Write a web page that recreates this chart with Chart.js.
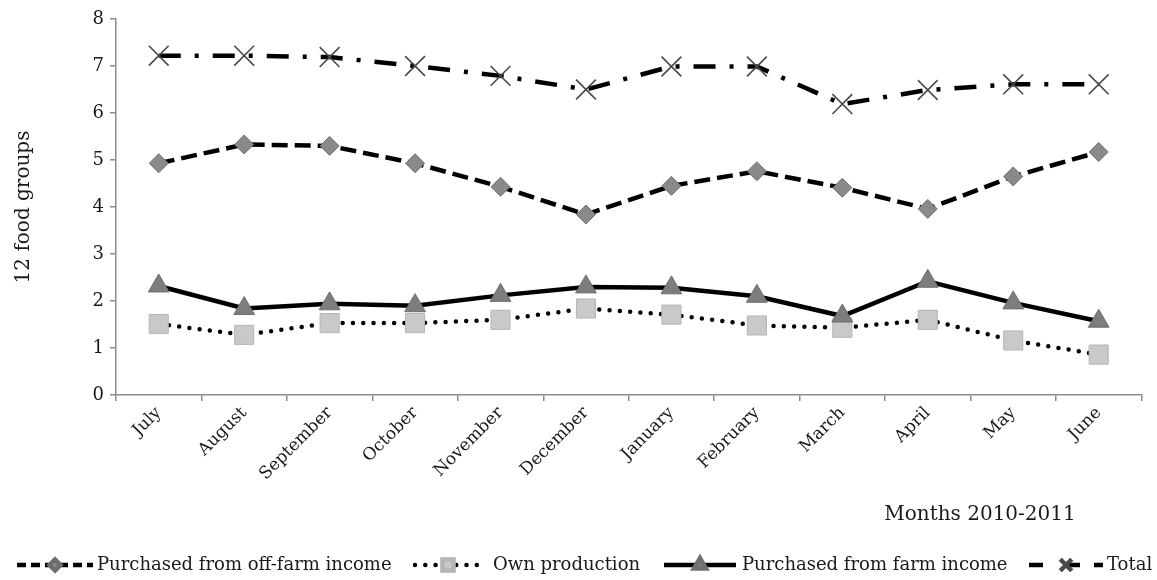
<!DOCTYPE html>
<html>
<head>
<meta charset="utf-8">
<script src="https://cdn.jsdelivr.net/npm/chart.js@4.4.1/dist/chart.umd.min.js"></script>
<style>
  html, body { margin: 0; padding: 0; background: #fff; }
  #wrap { width: 1157px; height: 580px; }
</style>
</head>
<body>
<div id="wrap"><canvas id="foodChart" width="1157" height="580"></canvas></div>
<script>
// -------------------------------
// Data
// -------------------------------
const months = ["July", "August", "September", "October", "November", "December",
  "January", "February", "March", "April", "May", "June"];
const offFarm = [4.93, 5.33, 5.30, 4.93, 4.43, 3.84, 4.45, 4.76, 4.41, 3.96, 4.65, 5.17];
const ownProduction = [1.51, 1.28, 1.53, 1.53, 1.60, 1.84, 1.71, 1.48, 1.43, 1.60, 1.16, 0.86];
const farmIncome = [2.32, 1.84, 1.94, 1.90, 2.12, 2.30, 2.28, 2.10, 1.68, 2.42, 1.96, 1.57];
const total = [7.22, 7.22, 7.19, 7.00, 6.79, 6.50, 6.99, 6.99, 6.19, 6.49, 6.61, 6.61];
const seriesNames = ["Purchased from off-farm income", "Own production",
  "Purchased from farm income", "Total"];
const yTicks = [0, 1, 2, 3, 4, 5, 6, 7, 8];

const FONT = "'DejaVu Serif', 'Liberation Serif', serif";
const TEXT = "#1a1a1a";
const AXIS = "#8c8c8c";

// -------------------------------
// Helpers
// -------------------------------
const line = (label, data, o) => ({
  label,
  data,
  borderColor: "#000",
  borderWidth: 4.5,
  tension: 0,
  fill: false,
  pointBorderWidth: 1,
  pointHoverRadius: o.pointRadius,
  ...o,
});

// Custom legend + x title, drawn on the canvas
const extrasPlugin = {
  id: "extras",
  afterDraw(chart) {
    const ctx = chart.ctx;
    const { drawPoint } = Chart.helpers;
    const y = 565;
    const samples = [[17, 76], [415, 66], [664, 72], [1029, 74]];
    const textX = [97, 493, 742, 1107];

    ctx.save();
    chart.data.datasets.forEach((ds, i) => {
      const [x0, w] = samples[i];
      ctx.beginPath();
      ctx.lineWidth = ds.borderWidth;
      ctx.strokeStyle = ds.borderColor;
      ctx.setLineDash(ds.legendDash || ds.borderDash || []);
      ctx.lineCap = ds.borderCapStyle || "butt";
      ctx.moveTo(x0, y);
      ctx.lineTo(x0 + w, y);
      ctx.stroke();
      ctx.setLineDash([]);

      ctx.fillStyle = ds.legendFill;
      ctx.strokeStyle = ds.pointBorderColor;
      drawPoint(ctx, {
        pointStyle: ds.pointStyle,
        radius: ds.pointRadius * 0.58,
        rotation: 0,
        borderWidth: ds.pointBorderWidth,
      }, x0 + w / 2, y);

      ctx.fillStyle = TEXT;
      ctx.font = `18px ${FONT}`;
      ctx.textBaseline = "middle";
      ctx.textAlign = "left";
      ctx.fillText(ds.label, textX[i], y);
    });

    ctx.font = `20px ${FONT}`;
    ctx.textAlign = "center";
    ctx.fillText("Months 2010-2011", 980, 515);
    ctx.restore();
  },
};

// -------------------------------
// Chart
// -------------------------------
const chartCtx = document.getElementById("foodChart").getContext("2d");

new Chart(chartCtx, {
  type: "line",
  data: {
    labels: months,
    datasets: [
      line(seriesNames[0], offFarm, {
        borderDash: [16, 7],
        legendDash: [9, 5],
        pointStyle: "rectRot",
        pointRadius: 9.5,
        pointBackgroundColor: "#8a8a8a",
        pointBorderColor: "#6e6e6e",
        legendFill: "#8a8a8a",
        order: 4,
      }),
      line(seriesNames[1], ownProduction, {
        borderDash: [0, 10.3],
        borderCapStyle: "round",
        pointStyle: "rect",
        pointRadius: 13.5,
        pointBackgroundColor: "#c9c9c9",
        pointBorderColor: "#b5b5b5",
        legendFill: "#c9c9c9",
        order: 3,
      }),
      line(seriesNames[2], farmIncome, {
        pointStyle: "triangle",
        pointRadius: 12,
        pointBackgroundColor: "#7d7d7d",
        pointBorderColor: "#707070",
        legendFill: "#7d7d7d",
        order: 2,
      }),
      line(seriesNames[3], total, {
        borderDash: [22, 14, 4, 14],
        legendDash: [14, 23, 14],
        pointStyle: "crossRot",
        pointRadius: 14,
        pointBorderWidth: 1.6,
        pointBackgroundColor: "#555",
        pointBorderColor: "#4a4a4a",
        legendFill: "#555",
        order: 1,
      }),
    ],
  },
  options: {
    responsive: false,
    animation: false,
    events: [],
    layout: { padding: { top: 19, right: 15, bottom: 0, left: 0 } },
    plugins: {
      legend: { display: false },
      tooltip: { enabled: false },
    },
    scales: {
      x: {
        offset: true,
        grid: {
          offset: true,
          drawOnChartArea: false,
          tickLength: 6,
          color: AXIS,
          lineWidth: 1.5,
        },
        border: { color: AXIS, width: 1.5 },
        ticks: {
          minRotation: 45,
          maxRotation: 45,
          padding: 2,
          color: TEXT,
          font: { family: FONT, size: 17 },
        },
        afterFit: (scale) => { scale.height = 185; },
      },
      y: {
        min: 0,
        max: 8,
        afterBuildTicks: (scale) => { scale.ticks = yTicks.map((v) => ({ value: v })); },
        grid: {
          drawOnChartArea: false,
          tickLength: 6,
          color: AXIS,
          lineWidth: 1.5,
        },
        border: { color: AXIS, width: 1.5 },
        ticks: {
          padding: 6,
          color: TEXT,
          font: { family: FONT, size: 18 },
        },
        title: {
          display: true,
          text: "12 food groups",
          color: TEXT,
          font: { family: FONT, size: 20 },
          padding: { top: 12, bottom: 0 },
        },
        afterFit: (scale) => { scale.width = 116; },
      },
    },
  },
  plugins: [extrasPlugin],
});
</script>
</body>
</html>
